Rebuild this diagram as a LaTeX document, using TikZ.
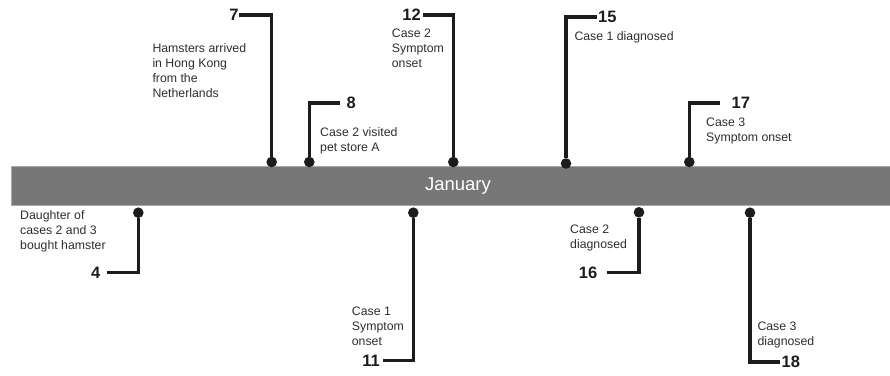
\documentclass[tikz,border=0pt]{standalone}
\usepackage{fontspec}
\setmainfont{Liberation Sans}
\definecolor{barcol}{HTML}{777777}
\definecolor{barrim}{HTML}{A8A8A8}
\definecolor{inkcol}{HTML}{1C1C1C}
\definecolor{txtcol}{HTML}{2E2E2E}
\begin{document}
\begin{tikzpicture}[x=1pt,y=-1pt,
  dot/.style={circle,fill=inkcol,inner sep=0pt,minimum size=10.6pt},
  lead/.style={draw=inkcol,line width=3.2pt},
  num/.style={font=\fontsize{16.5}{18}\selectfont\bfseries,text=inkcol,inner sep=0pt},
  note/.style={font=\fontsize{12.3}{15}\selectfont,text=txtcol,align=left,inner sep=0pt,anchor=north west}]
\useasboundingbox (0,0) rectangle (890,375);
% bar
\path[fill=barcol,draw=barrim,line width=0.8pt] (11,166) rectangle (892,205);
\node[font=\fontsize{18.5}{20}\selectfont,text=white,inner sep=0pt] (jan) at (458,186.5) {January};
% dots
\node[dot] (d7) at (271.7,162) {};
\node[dot] (d8) at (309.3,162) {};
\node[dot] (d12) at (453.3,162) {};
\node[dot] (d15) at (566,163.5) {};
\node[dot] (d17) at (689.3,162) {};
\node[dot] (d4) at (138.3,212.7) {};
\node[dot] (d11) at (413.3,212.7) {};
\node[dot] (d16) at (639,212.3) {};
\node[dot] (d18) at (750,212.7) {};
% numbers
\node[num,anchor=east] (n7) at (238.7,15) {7};
\node[num,anchor=west] (n8) at (346.5,103) {8};
\node[num,anchor=east] (n12) at (421,15) {12};
\node[num,anchor=west] (n15) at (598,17) {15};
\node[num,anchor=west] (n17) at (731.5,103) {17};
\node[num,anchor=east] (n4) at (100.5,272.5) {4};
\node[num,anchor=east] (n11) at (380,360.5) {11};
\node[num,anchor=east] (n16) at (597.5,272.5) {16};
\node[num,anchor=west] (n18) at (781.5,362) {18};
% leaders
\draw[lead] (d7) |- (n7.east);
\draw[lead] (d8) |- ([xshift=-6.5pt]n8.west);
\draw[lead] (d12) |- ([xshift=2pt]n12.east);
\draw[lead] (d15) |- ([xshift=-1pt]n15.west);
\draw[lead] (d17) |- ([xshift=-11.5pt]n17.west);
\draw[lead] (d4) |- ([xshift=6.5pt]n4.east);
\draw[lead] (d11) |- ([xshift=3pt]n11.east);
\draw[lead] (d16) |- ([xshift=9.5pt]n16.east);
\draw[lead] (d18) |- ([xshift=-1.5pt]n18.west);
% notes
\node[note] (t7) at (152.3,43.5) {Hamsters arrived\\in Hong Kong\\from the\\Netherlands};
\node[note] (t8) at (320,127) {Case 2 visited\\pet store A};
\node[note] (t12) at (391.7,29) {Case 2\\Symptom\\onset};
\node[note] (t15) at (574.3,31) {Case 1 diagnosed};
\node[note] (t17) at (706,118) {Case 3\\Symptom onset};
\node[note] (t4) at (20,210) {Daughter of\\cases 2 and 3\\bought hamster};
\node[note] (t11) at (351.7,307) {Case 1\\Symptom\\onset};
\node[note] (t16) at (570,225) {Case 2\\diagnosed};
\node[note] (t18) at (757.3,322) {Case 3\\diagnosed};
\end{tikzpicture}
\end{document}
